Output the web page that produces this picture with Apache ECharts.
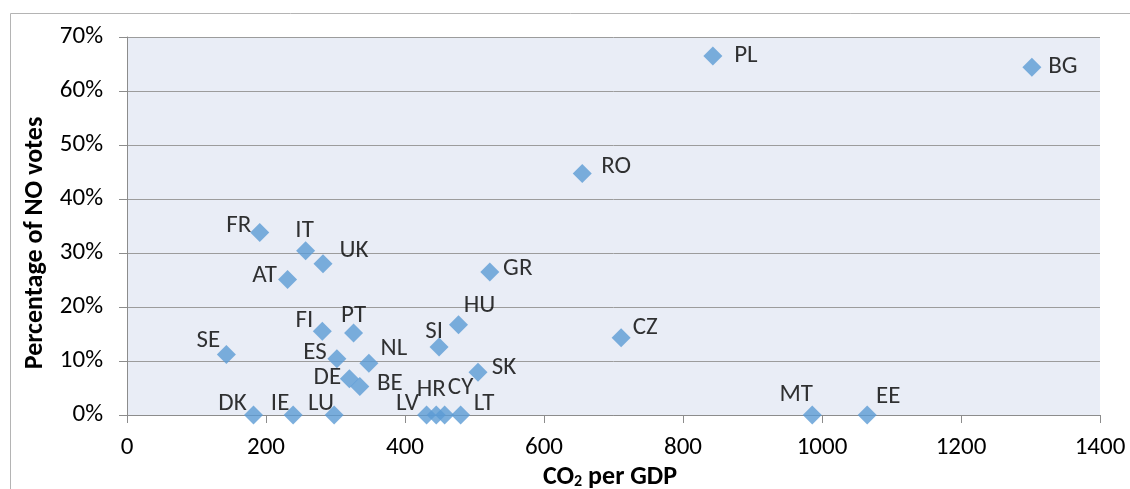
<!DOCTYPE html>
<html>
<head>
<meta charset="utf-8">
<script src="https://cdn.jsdelivr.net/npm/echarts@6/dist/echarts.min.js"></script>
<style>
html,body{margin:0;padding:0;background:#fff;}
#chart{width:1130px;height:489px;}
</style>
</head>
<body>
<div id="chart"></div>
<script>
// Data
const countries = ['PL','BG','RO','CZ','MT','EE','GR','UK','IT','FR','AT','SE','FI','PT','ES','NL','DE','BE','DK','IE','LU','LV','HR','CY','LT','SI','HU','SK'];
const co2PerGdp = [843, 1302, 655, 711, 986, 1065, 522, 282, 257, 191, 231, 143, 281, 326, 302, 348, 320, 335, 182, 239, 298, 431, 445, 457, 480, 449, 477, 505];
const noVotesPct = [66.5, 64.4, 44.7, 14.3, 0, 0, 26.5, 28.0, 30.4, 33.8, 25.1, 11.2, 15.5, 15.2, 10.4, 9.6, 6.7, 5.3, 0, 0, 0, 0, 0, 0, 0, 12.6, 16.7, 7.9];
const xTicks = [0, 200, 400, 600, 800, 1000, 1200, 1400];
const yTicks = [0, 10, 20, 30, 40, 50, 60, 70];

// Label placement (layout only): offset of label centre from marker centre
const labelOffsets = {
  PL:[33,0], BG:[31,0], RO:[34,-7], CZ:[24,-10], MT:[-16,-20], EE:[21,-18],
  GR:[28,-3], UK:[31,-13], IT:[-1,-20], FR:[-21,-7], AT:[-23,-4], SE:[-18,-14],
  FI:[-18,-11], PT:[0,-17], ES:[-22,-6], NL:[25,-14], DE:[-22,-1.5], BE:[30,-3],
  DK:[-21,-11.5], IE:[-13,-11.5], LU:[-13,-11.5], LV:[-19,-11.5], HR:[-5,-25],
  CY:[16,-27], LT:[23.5,-11.5], SI:[-5,-15], HU:[21,-19], SK:[26,-4.5]
};

const FONT = 'Carlito, Lato, sans-serif';
const chart = echarts.init(document.getElementById('chart'));
const axisGray = '#8c8c8c';

chart.setOption({
  backgroundColor: '#ffffff',
  animation: false,
  textStyle: { fontFamily: FONT },
  grid: {
    left: 127, right: 30, top: 37, bottom: 74,
    show: true, backgroundColor: '#E9EDF6', borderWidth: 0,
    containLabel: false, outerBoundsMode: 'none'
  },
  xAxis: {
    type: 'value',
    min: xTicks[0], max: xTicks[xTicks.length - 1],
    interval: xTicks[1] - xTicks[0],
    axisLine: { show: true, onZero: false, lineStyle: { color: axisGray, width: 1 } },
    axisTick: { show: true, length: 8, inside: false, lineStyle: { color: axisGray } },
    splitLine: { show: false },
    axisLabel: { fontSize: 25, color: '#000', margin: 20, fontFamily: FONT, formatter: v => String(v) }
  },
  yAxis: {
    type: 'value',
    min: yTicks[0], max: yTicks[yTicks.length - 1],
    interval: yTicks[1] - yTicks[0],
    axisLine: { show: true, lineStyle: { color: axisGray, width: 1 } },
    axisTick: { show: true, length: 8, inside: false, lineStyle: { color: axisGray } },
    splitLine: { show: true, lineStyle: { color: '#9c9c9c', width: 1 } },
    axisLabel: { fontSize: 25, color: '#000', margin: 24, formatter: v => v + '%', fontFamily: FONT }
  },
  graphic: [
    {
      type: 'rect', silent: true, z: -10,
      shape: { x: 10.5, y: 13.5, width: 1400, height: 700 },
      style: { fill: 'none', stroke: '#b4b4b4', lineWidth: 1 }
    },
    {
      type: 'text', silent: true,
      x: 35, y: 243, rotation: Math.PI / 2,
      style: {
        text: 'Percentage of NO votes',
        fontFamily: FONT, fontWeight: 'bold', fontSize: 26,
        fill: '#000', align: 'center', verticalAlign: 'middle'
      }
    },
    {
      type: 'text', silent: true,
      x: 610, y: 476,
      style: {
        text: '{a|CO}{s|2}{a| per GDP}',
        fontFamily: FONT, fontWeight: 'bold', fontSize: 26,
        fill: '#000', align: 'center', verticalAlign: 'middle',
        rich: {
          a: { fontFamily: FONT, fontWeight: 'bold', fontSize: 26, fill: '#000', lineHeight: 28, verticalAlign: 'bottom' },
          s: { fontFamily: FONT, fontWeight: 'bold', fontSize: 16, fill: '#000', lineHeight: 16, verticalAlign: 'bottom' }
        }
      }
    }
  ],
  series: [{
    type: 'scatter',
    symbol: 'diamond',
    symbolSize: 19,
    itemStyle: { color: '#5B9BD5' },
    label: {
      show: true, position: 'inside',
      formatter: p => p.name,
      fontSize: 25, color: '#000', fontFamily: FONT,
      textBorderWidth: 0
    },
    emphasis: { disabled: true },
    data: countries.map((c, i) => ({
      name: c,
      value: [co2PerGdp[i], noVotesPct[i]],
      label: { offset: labelOffsets[c] }
    }))
  }]
});
</script>
</body>
</html>
